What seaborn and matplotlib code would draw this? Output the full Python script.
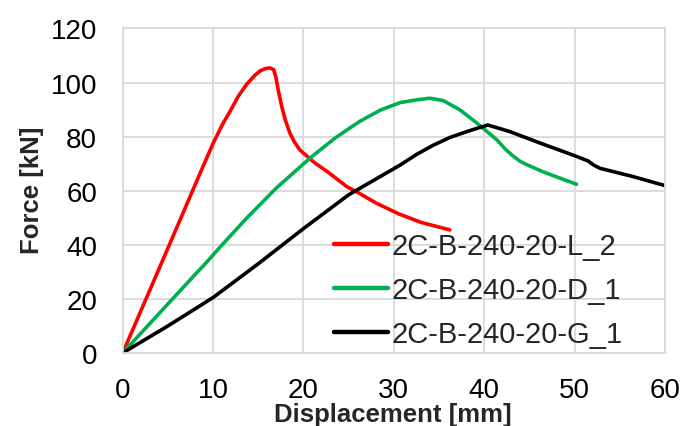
import numpy as np
import pandas as pd
import matplotlib
matplotlib.use("Agg")
import matplotlib.pyplot as plt
import seaborn as sns

# Data
red_x = [0, 2, 4, 6.5, 8.5, 10, 11, 11.9, 12.8, 13.7, 14.6, 15.2, 15.8, 16.3, 16.7, 16.95, 17.2,
         17.6, 18.0, 18.5, 19.0, 19.6, 21.1, 22.9, 24.8, 26.2, 28, 30.5, 33, 36.2]
red_y = [0, 15.5, 31, 50.4, 66, 77.5, 84.3, 89.5, 95, 99.3, 102.6, 104.3, 105.2, 105.4, 104.8, 102,
         97.3, 91.1, 86, 81.3, 78, 75.1, 70.7, 66.4, 61.5, 59, 55.5, 51.5, 48.3, 45.5]

green_x = [0, 4, 8, 9, 11, 13.7, 17, 20.7, 23.5, 26.2, 28.5, 30.7, 32.5, 34, 35.5, 37.3,
           39.2, 41.4, 42.3, 43.2, 44, 44.8, 46.5, 48.5, 50.2]
green_y = [0, 14.5, 29, 32.5, 40, 49.8, 61, 72, 79.5, 85.6, 89.8, 92.6, 93.6, 94.2, 93.3, 89.9,
           85, 78.8, 75.5, 72.8, 70.8, 69.5, 67, 64.5, 62.4]

black_x = [0, 5, 10, 15, 20, 25, 30.7, 32.5, 34.4, 36.2, 38.1, 40.4, 42.8, 46.2, 49.8, 51.5,
           52.1, 52.8, 56.5, 60.2]
black_y = [0, 10, 20.5, 33, 46, 58.5, 69.5, 73.4, 76.9, 79.7, 81.9, 84.3, 81.9, 77.6, 73.2, 71,
           69.5, 68.3, 65.2, 61.7]

labels = ["2C-B-240-20-L_2", "2C-B-240-20-D_1", "2C-B-240-20-G_1"]
colors = ["#FF0000", "#00B050", "#000000"]

df = pd.concat([
    pd.DataFrame({"x": red_x, "y": red_y, "s": labels[0]}),
    pd.DataFrame({"x": green_x, "y": green_y, "s": labels[1]}),
    pd.DataFrame({"x": black_x, "y": black_y, "s": labels[2]}),
])

sns.set_theme(style="whitegrid")
plt.rcParams["font.family"] = ["Liberation Sans", "DejaVu Sans"]
GRID = "#D9D9D9"

fig = plt.figure(figsize=(7, 4.27), dpi=100)
ax = fig.add_axes([0.1753, 0.171, 0.7747, 0.760])

sns.lineplot(data=df, x="x", y="y", hue="s", palette=dict(zip(labels, colors)),
             sort=False, estimator=None, linewidth=2.6, ax=ax)

ax.set_xlim(0, 60)
ax.set_ylim(0, 120)
ax.set_xticks(np.arange(0, 61, 10))
ax.set_yticks(np.arange(0, 121, 20))
ax.grid(True, color=GRID, linewidth=1.3)
for sp in ax.spines.values():
    sp.set_color(GRID)
    sp.set_linewidth(1.3)
ax.tick_params(axis="both", labelsize=20, colors="black", length=0)
ax.tick_params(axis="y", pad=18.5)
ax.tick_params(axis="x", pad=17)

ax.set_xlabel("Displacement [mm]", fontsize=18.5, fontweight="bold")
ax.set_ylabel("Force [kN]", fontsize=18.5, fontweight="bold")
ax.xaxis.set_label_coords(0.4975, -0.151)
ax.yaxis.set_label_coords(-0.1450, 0.5035)

leg = ax.legend(loc="upper left", bbox_to_anchor=(0.390, 0.372), frameon=False,
                fontsize=21, handlelength=1.85, handletextpad=0.1, labelspacing=0.55,
                borderpad=0, borderaxespad=0)
for h in leg.get_lines():
    h.set_linewidth(3.2)

fig.savefig("out.png", dpi=100)
